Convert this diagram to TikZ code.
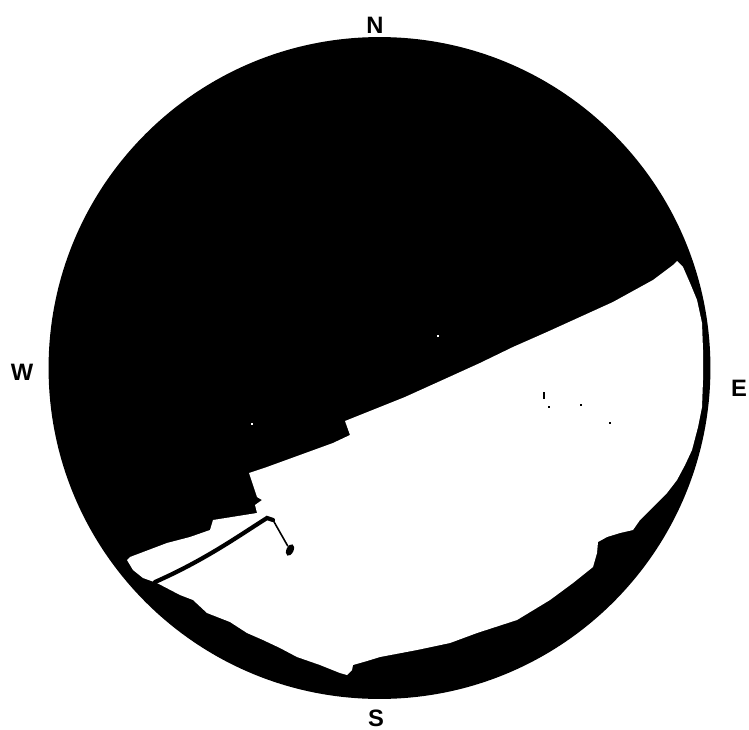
\documentclass[tikz,border=0pt]{standalone}
\usepackage{fontspec}
\setsansfont{Liberation Sans}
\usetikzlibrary{calc, shapes.geometric}
\tikzset{
    sky/.style={fill=white, draw=none},
    mask/.style={fill=black, draw=none},
    compass/.style={font=\sffamily\bfseries\fontsize{13.5}{16}\selectfont, inner sep=0pt},
    mast/.style={draw=black, line width=2.4pt, line cap=round},
    speck/.style={fill=black, draw=none}
}

\begin{document}
\begin{tikzpicture}[x=0.02cm, y=-0.02cm]
    \useasboundingbox (0,0) rectangle (749,729);

    % --- FISHEYE DISC ---
    \fill[mask] (379.5,368) circle[radius=6.62cm];

    % --- VISIBLE SKY ---
    \fill[sky] (127,560) -- (130,557) -- (167,543) -- (190,537) -- (210,530) -- (213,520)
        -- (257,513) -- (255,505) -- (262,500) -- (257,497) -- (249,473) -- (267,467)
        -- (300,455) -- (333,443) -- (350,435) -- (345,421) -- (380,407) -- (405,397)
        -- (447,378) -- (480,363) -- (513,347) -- (547,332) -- (580,317) -- (613,302)
        -- (653,280) -- (673,265) -- (677,261) -- (683,267) -- (690,283) -- (697,300)
        -- (702,323) -- (703,350) -- (703,380) -- (702,407) -- (698,427) -- (692,450)
        -- (685,465) -- (677,480) -- (667,493) -- (653,507) -- (640,520) -- (633,530)
        -- (620,533) -- (607,537) -- (598,542) -- (597,553) -- (593,567) -- (573,583)
        -- (550,600) -- (517,620) -- (477,633) -- (450,643) -- (417,650) -- (380,657)
        -- (367,661) -- (353,665) -- (352,670) -- (347,675) -- (340,673) -- (320,665)
        -- (297,657) -- (280,648) -- (263,640) -- (247,633) -- (230,622) -- (207,613)
        -- (193,600) -- (180,595) -- (157,583) -- (143,578) -- (133,570) -- cycle;

    % --- MAST ---
    \coordinate (mastFoot) at (155,582);
    \coordinate (mastTop) at (267,518);
    \coordinate (mastBend) at (273,520);
    \node[speck, ellipse, minimum width=4pt, minimum height=7pt, rotate=-25, inner sep=0pt] (mastTip) at (290,550) {};
    \draw[mast] (mastFoot) .. controls (205,560) and (240,535) .. (mastTop) -- (mastBend);
    \draw[black, line width=0.9pt] (mastBend) -- (mastTip);

    % specks
    \fill[speck] (543,392) rectangle ++(2,7);
    \fill[speck] (548,406) rectangle ++(1.5,1.5);
    \fill[speck] (580,404) rectangle ++(2,2);
    \fill[speck] (609,422) rectangle ++(1.5,1.5);
    \fill[white] (437,335) rectangle ++(1.5,1.5);
    \fill[white] (251,423) rectangle ++(1.5,1.5);

    % --- COMPASS LABELS ---
    \node[compass] (north) at (375,25) {N};
    \node[compass] (south) at (376,718) {S};
    \node[compass] (west) at (22,372) {W};
    \node[compass] (east) at (739,388) {E};
\end{tikzpicture}
\end{document}
